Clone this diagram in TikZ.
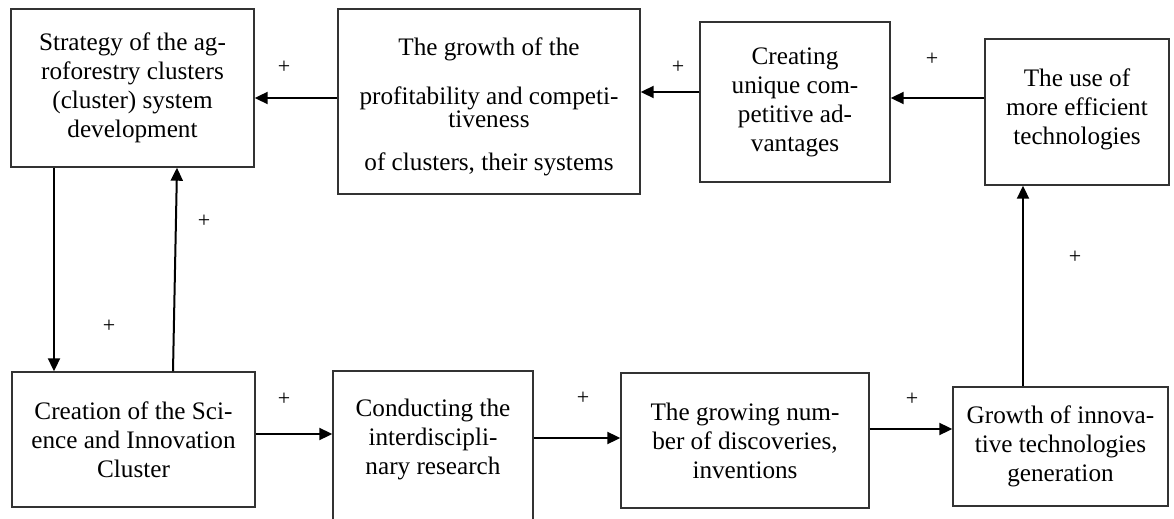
\documentclass[tikz,border=0pt]{standalone}
\usepackage{fontspec}
\setmainfont{Liberation Serif}
\usetikzlibrary{arrows.meta}

\begin{document}
\begin{tikzpicture}[x=0.5pt, y=-0.5pt,
            box/.style={draw=black!80, line width=0.7pt, align=center, inner sep=0pt, font=\fontsize{12.6}{14.5}\selectfont},
            link/.style={line width=1pt, -{Triangle[length=6.5pt, width=6pt]}},
            sign/.style={font=\fontsize{11}{12}\selectfont, inner sep=0pt}
        ]
            \useasboundingbox (0,0) rectangle (1174,519);

            % upper row
            \node[box, minimum width=121.5pt, minimum height=79pt] (strategy) at (132.5,88) {Strategy of the ag-\\roforestry clusters\\(cluster) system\\development};
            \node[box, minimum width=151pt, minimum height=92.5pt] (growth) at (489,101.5) {\mbox{}\\The growth of the\\[10pt]profitability and competi-\\[-3pt]tiveness\\[7pt]of clusters, their systems};
            \node[box, minimum width=95pt, minimum height=80pt] (creating) at (795,102) {Creating\\unique com-\\petitive ad-\\vantages};
            \node[box, minimum width=92pt, minimum height=73pt] (use) at (1077,112) {The use of\\more efficient\\technologies\\[-9pt]\mbox{}};

            % lower row
            \node[box, minimum width=121.5pt, minimum height=67.5pt] (creation) at (133.5,439.5) {Creation of the Sci-\\ence and Innovation\\Cluster};
            \node[box, minimum width=100pt, minimum height=77pt] (research) at (433,448) {Conducting the\\interdiscipli-\\nary research\\[-3pt]\mbox{}};
            \node[box, minimum width=124pt, minimum height=67.5pt] (discoveries) at (745,440.5) {The growing num-\\ber of discoveries,\\inventions};
            \node[box, minimum width=107.5pt, minimum height=59.5pt] (generation) at (1060.5,446.5) {Growth of innova-\\tive technologies\\generation};

            % links
            \draw[link] (use.west |- 0,98) -- (creating.east |- 0,98);
            \draw[link] (creating.west |- 0,92) -- (growth.east |- 0,92);
            \draw[link] (growth.west |- 0,98) -- (strategy.east |- 0,98);
            \draw[link] (strategy.south -| 54,0) -- (creation.north -| 54,0);
            \draw[link] (creation.north -| 173,0) -- (strategy.south -| 177,0);
            \draw[link] (creation.east |- 0,434) -- (research.west |- 0,434);
            \draw[link] (research.east |- 0,438) -- (discoveries.west |- 0,438);
            \draw[link] (discoveries.east |- 0,429) -- (generation.west |- 0,429);
            \draw[link] (generation.north -| 1023,0) -- (use.south -| 1023,0);

            % signs
            \node[sign] (plususe) at (932,59) {+};
            \node[sign] (pluscreating) at (678,67) {+};
            \node[sign] (plusgrowth) at (284,67) {+};
            \node[sign] (plusdown) at (109,326) {+};
            \node[sign] (plusup) at (204,221) {+};
            \node[sign] (pluscreation) at (284,399) {+};
            \node[sign] (plusresearch) at (583,398) {+};
            \node[sign] (plusdiscoveries) at (912,399) {+};
            \node[sign] (plusgeneration) at (1075,257) {+};

        \end{tikzpicture}
\end{document}
